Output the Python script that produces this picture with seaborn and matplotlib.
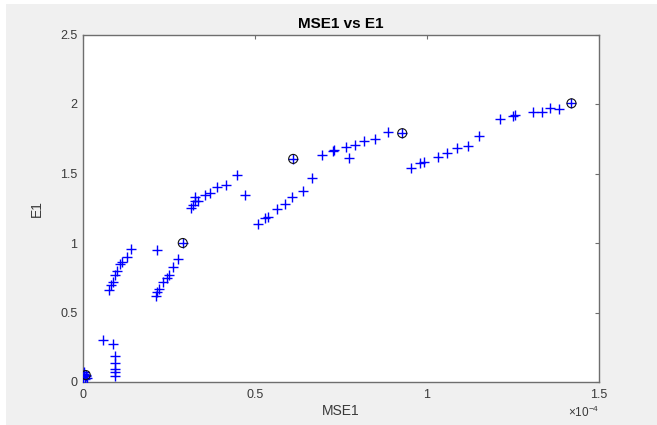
import matplotlib
matplotlib.use('Agg')
import matplotlib.pyplot as plt
import seaborn as sns
import pandas as pd
import numpy as np
from matplotlib.patches import Rectangle
from matplotlib.ticker import ScalarFormatter, FormatStrFormatter

# MSE1 values in units of 1e-4, E1 values
mse1_e4 = [0.000, 0.004, 0.008, 0.010, 0.012, 0.006, 0.002,
           0.059, 0.086, 0.092, 0.092, 0.092, 0.092, 0.092,
           0.0765, 0.081, 0.086, 0.093, 0.099, 0.107, 0.114, 0.127, 0.140,
           0.212, 0.216, 0.222, 0.232, 0.243, 0.249, 0.261, 0.275, 0.290, 0.216,
           0.313, 0.321, 0.326, 0.326, 0.335, 0.355, 0.369, 0.389, 0.416, 0.447, 0.471,
           0.510, 0.529, 0.539, 0.563, 0.587, 0.609, 0.640, 0.665, 0.611, 0.694,
           0.726, 0.730, 0.765, 0.774, 0.791, 0.817, 0.849, 0.8875, 0.928,
           0.953, 0.980, 0.991, 1.033, 1.059, 1.086, 1.120, 1.151, 1.212, 1.249,
           1.256, 1.307, 1.333, 1.358, 1.384, 1.420]
e1 = [0.03, 0.06, 0.05, 0.04, 0.03, 0.02, 0.07,
      0.30, 0.275, 0.19, 0.14, 0.09, 0.07, 0.04,
      0.66, 0.70, 0.72, 0.77, 0.80, 0.85, 0.86, 0.90, 0.96,
      0.62, 0.65, 0.67, 0.72, 0.745, 0.77, 0.83, 0.885, 1.00, 0.95,
      1.25, 1.27, 1.30, 1.33, 1.30, 1.345, 1.357, 1.40, 1.42, 1.49, 1.345,
      1.14, 1.18, 1.19, 1.245, 1.28, 1.33, 1.375, 1.47, 1.605, 1.633,
      1.66, 1.67, 1.693, 1.61, 1.707, 1.736, 1.745, 1.795, 1.79,
      1.537, 1.573, 1.58, 1.62, 1.645, 1.68, 1.698, 1.77, 1.892, 1.914,
      1.92, 1.94, 1.942, 1.971, 1.962, 2.005]

# highlighted (circled) points
front_mse1_e4 = [0.008, 0.290, 0.611, 0.928, 1.420]
front_e1 = [0.05, 1.00, 1.605, 1.79, 2.005]

df = pd.DataFrame({'MSE1': np.array(mse1_e4) * 1e-4, 'E1': e1})
front = pd.DataFrame({'MSE1': np.array(front_mse1_e4) * 1e-4, 'E1': front_e1})

sns.set_style('white')
plt.rcParams['font.family'] = ['Liberation Sans', 'DejaVu Sans']
plt.rcParams['mathtext.fontset'] = 'custom'
plt.rcParams['mathtext.rm'] = 'Liberation Sans'

fig = plt.figure(figsize=(6.57, 4.25), dpi=100, facecolor='white')
fig.patches.append(Rectangle((6 / 657, 0), 1, 1 - 4 / 425, transform=fig.transFigure,
                             facecolor='#f0f0f0', edgecolor='none', zorder=-10))
ax = fig.add_axes([83 / 657, 1 - 382 / 425, (599 - 83) / 657, (382 - 34.5) / 425])
ax.set_facecolor('white')

sns.scatterplot(data=df, x='MSE1', y='E1', marker='+', color='#0000ff',
                s=42, linewidth=1.0, ax=ax, zorder=3)
sns.scatterplot(data=front, x='MSE1', y='E1', marker='o', facecolor='none',
                edgecolor='#111111', s=42, linewidth=0.8, ax=ax, zorder=4)

ax.set_xlim(0, 1.5e-4)
ax.set_ylim(0, 2.5)
ax.set_xticks([0, 0.5e-4, 1e-4, 1.5e-4])
ax.set_yticks([0, 0.5, 1, 1.5, 2, 2.5])


class PlainSciFormatter(ScalarFormatter):
    def _set_format(self):
        self.format = '%1.10g'


fmt = PlainSciFormatter(useMathText=True)
fmt.set_scientific(True)
fmt.set_powerlimits((-4, -4))
ax.xaxis.set_major_formatter(fmt)
ax.yaxis.set_major_formatter(FormatStrFormatter('%g'))

axis_gray = '#3a3a3a'
for side in ['left', 'right', 'top', 'bottom']:
    ax.spines[side].set_visible(True)
    ax.spines[side].set_color('#6e6e6e')
    ax.spines[side].set_linewidth(1.0)
ax.tick_params(direction='in', length=3, width=0.8, color='#6e6e6e',
               top=True, right=True, labelsize=9, labelcolor=axis_gray)
ax.tick_params(axis='x', pad=5)
ax.tick_params(axis='y', pad=4)
ax.xaxis.get_offset_text().set_fontsize(8.5)
ax.xaxis.get_offset_text().set_color(axis_gray)

ax.set_title('MSE1 vs E1', fontsize=11, fontweight='bold', color='black', pad=5)
ax.set_xlabel('MSE1', fontsize=10, color=axis_gray, labelpad=2)
ax.set_ylabel('E1', fontsize=10, color=axis_gray, labelpad=12)

fig.savefig('out.png', dpi=100)
